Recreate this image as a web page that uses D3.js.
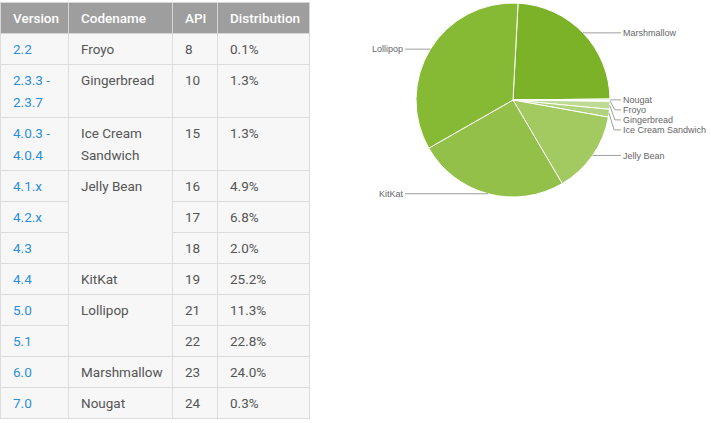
<!DOCTYPE html>
<html>
<head>
<meta charset="utf-8">
<script src="https://cdn.jsdelivr.net/npm/d3@7"></script>
<style>
  body { margin: 0; background: #fff; position: relative; width: 711px; height: 423px; overflow: hidden; }
  table { position: absolute; left: 0; top: 2px; border-collapse: collapse; table-layout: fixed;
          font-family: Roboto, "Noto Sans", sans-serif; font-size: 13.5px; }
  th, td { border: 1px solid #dcdcdc; padding: 4px 6px 4px 12px; line-height: 22px; height: 22px;
           text-align: left; vertical-align: top; }
  th { background: #9e9e9e; color: #fff; font-weight: 500; border-color: #d6d6d6; }
  td { background: #f7f7f7; color: #555; }
  td.ver { color: #2b8fd8; }
  svg { position: absolute; left: 0; top: 0; }
</style>
</head>
<body>
<script>
// table data
var headers = ["Version", "Codename", "API", "Distribution"];
var versions = ["2.2", "2.3.3 - 2.3.7", "4.0.3 - 4.0.4", "4.1.x", "4.2.x", "4.3", "4.4", "5.0", "5.1", "6.0", "7.0"];
var codenames = ["Froyo", "Gingerbread", "Ice Cream Sandwich", "Jelly Bean", "Jelly Bean", "Jelly Bean", "KitKat", "Lollipop", "Lollipop", "Marshmallow", "Nougat"];
var apis = [8, 10, 15, 16, 17, 18, 19, 21, 22, 23, 24];
var distribution = [0.1, 1.3, 1.3, 4.9, 6.8, 2.0, 25.2, 11.3, 22.8, 24.0, 0.3];

// pie order and colours
var pieOrder = ["Marshmallow", "Nougat", "Froyo", "Gingerbread", "Ice Cream Sandwich", "Jelly Bean", "KitKat", "Lollipop"];
var pieColors = ["#7cb227", "#d8eabd", "#cae2a6", "#bedb93", "#b1d37d", "#a2ca61", "#93c049", "#86b934"];

var colWidths = [68, 104, 45, 92];

// ---- table ----
var table = d3.select("body").append("table").style("width", d3.sum(colWidths) + "px");
table.append("colgroup").selectAll("col").data(colWidths).enter().append("col")
  .style("width", function(d){ return d + "px"; });
table.append("thead").append("tr").selectAll("th").data(headers).enter().append("th").text(function(d){ return d; });

var tbody = table.append("tbody");
versions.forEach(function(v, i){
  var tr = tbody.append("tr");
  tr.append("td").attr("class", "ver").text(v);
  // codename cell spans all rows with the same name
  if (i == 0 || codenames[i - 1] != codenames[i]) {
    var span = 1;
    while (codenames[i + span] == codenames[i]) span++;
    tr.append("td").attr("rowspan", span).text(codenames[i]);
  }
  tr.append("td").text(apis[i]);
  tr.append("td").text(distribution[i].toFixed(1) + "%");
});

// ---- pie ----
var totals = d3.rollup(codenames.map(function(c, i){ return [c, distribution[i]]; }),
  function(g){ return d3.sum(g, function(d){ return d[1]; }); }, function(d){ return d[0]; });
var pieData = pieOrder.map(function(name, i){ return {name: name, value: totals.get(name), color: pieColors[i]}; });

var svg = d3.select("body").append("svg").attr("width", 711).attr("height", 423);
var cx = 513, cy = 100, r = 97;
var offset = 3 * Math.PI / 180;

var pie = d3.pie().sort(null).value(function(d){ return d.value; })
  .startAngle(offset).endAngle(offset + 2 * Math.PI);
var arcs = pie(pieData);
var arc = d3.arc().innerRadius(0).outerRadius(r);
var edge = d3.arc().innerRadius(r).outerRadius(r);

var g = svg.append("g").attr("transform", "translate(" + cx + "," + cy + ")");
g.selectAll("path").data(arcs).enter().append("path")
  .attr("d", arc)
  .attr("fill", function(d){ return d.data.color; })
  .attr("stroke", "#fff").attr("stroke-width", 1);

// labels: place at slice edge, then push apart on each side
var labels = arcs.map(function(d){
  var p = edge.centroid(d);
  var mid = (d.startAngle + d.endAngle) / 2;
  return {name: d.data.name, p: p, side: Math.sin(mid) > 0 ? 1 : -1, y: p[1]};
});
[1, -1].forEach(function(s){
  var side = labels.filter(function(l){ return l.side == s; }).sort(function(a, b){ return a.p[1] - b.p[1]; });
  for (var i = 1; i < side.length; i++) {
    if (side[i].y < side[i - 1].y + 10) side[i].y = side[i - 1].y + 10;
  }
});

g.selectAll("polyline").data(labels).enter().append("polyline")
  .attr("fill", "none").attr("stroke", "#9e9e9e").attr("stroke-width", 1)
  .attr("points", function(l){
    var bx = l.p[0] + l.side * 5;
    var ex = l.side * (r + 11);
    return [l.p, [bx, l.y], [ex, l.y]].map(function(q){ return q.join(","); }).join(" ");
  });

g.selectAll("text").data(labels).enter().append("text")
  .attr("x", function(l){ return l.side * (r + 13); })
  .attr("y", function(l){ return l.y; })
  .attr("dy", "0.35em")
  .attr("text-anchor", function(l){ return l.side > 0 ? "start" : "end"; })
  .style("font-family", "Arial, 'Liberation Sans', sans-serif")
  .style("font-size", "9px")
  .style("fill", "#666")
  .text(function(l){ return l.name; });
</script>
</body>
</html>
